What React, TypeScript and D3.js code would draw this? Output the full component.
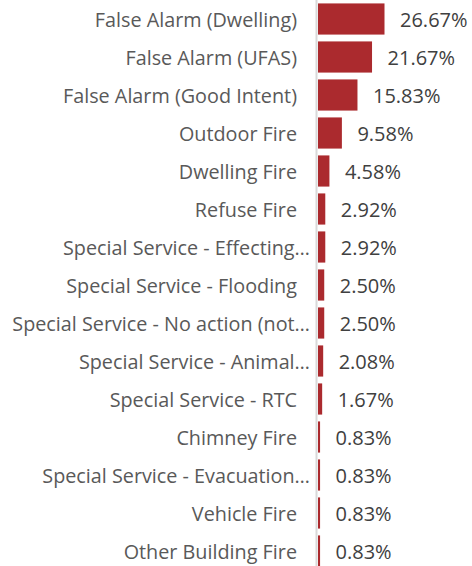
import React from "react";
import * as d3 from "d3";

const categories = [
  "False Alarm (Dwelling)",
  "False Alarm (UFAS)",
  "False Alarm (Good Intent)",
  "Outdoor Fire",
  "Dwelling Fire",
  "Refuse Fire",
  "Special Service - Effecting…",
  "Special Service - Flooding",
  "Special Service - No action (not…",
  "Special Service - Animal…",
  "Special Service - RTC",
  "Chimney Fire",
  "Special Service - Evacuation…",
  "Vehicle Fire",
  "Other Building Fire",
];
const values = [26.67, 21.67, 15.83, 9.58, 4.58, 2.92, 2.92, 2.5, 2.5, 2.08, 1.67, 0.83, 0.83, 0.83, 0.83];

const W = 472;
const H = 566;

export default function App() {
  const x0 = 318;
  const x = d3.scaleLinear().domain([0, 26.67]).range([x0, 384.5]);
  const y = d3
    .scaleBand<string>()
    .domain(categories)
    .range([0, 570])
    .paddingInner(0.18)
    .paddingOuter(0.09);
  const font = "'Open Sans', sans-serif";
  return (
    <svg
      width={W}
      height={H}
      style={{ position: "absolute", left: 0, top: 0, background: "#fff" }}
    >
      {categories.map((c, i) => {
        const yy = y(c)!;
        const cy = yy + y.bandwidth() / 2;
        const truncated = c.endsWith("…");
        return (
          <g key={c}>
            <rect
              x={x(0)}
              y={yy}
              width={x(values[i]) - x(0)}
              height={y.bandwidth()}
              fill="#ab2a2e"
            />
            <text
              x={truncated ? 310 : 297}
              y={cy}
              textAnchor="end"
              dominantBaseline="central"
              fontFamily={font}
              fontSize={19.8}
              fill="#595959"
            >
              {c}
            </text>
            <text
              x={x(values[i]) + 15.5}
              y={cy}
              dominantBaseline="central"
              fontFamily={font}
              fontSize={20}
              fill="#404040"
            >
              {values[i].toFixed(2) + "%"}
            </text>
          </g>
        );
      })}
      <line x1={316.5} x2={316.5} y1={0} y2={H} stroke="#d9d9d9" strokeWidth={2} />
    </svg>
  );
}
